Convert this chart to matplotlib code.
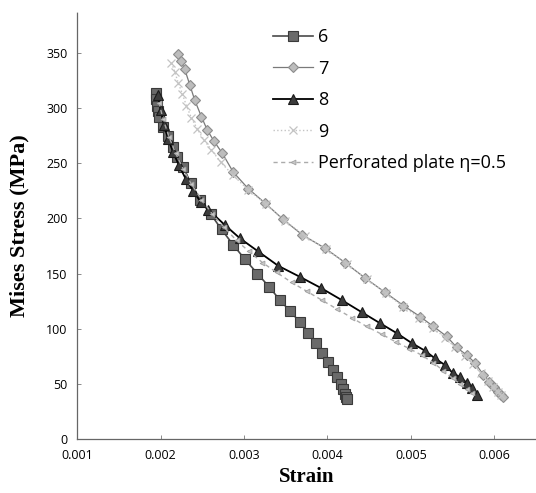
import matplotlib
matplotlib.use("Agg")
import matplotlib.pyplot as plt

# strain / Mises stress
x6 = [0.00194, 0.00195, 0.00196, 0.00197, 0.00198, 0.00203, 0.00209, 0.00215, 0.00220, 0.00227,
      0.00236, 0.00247, 0.00260, 0.00273, 0.00287, 0.00301, 0.00316, 0.00330, 0.00343, 0.00355,
      0.00367, 0.00377, 0.00386, 0.00394, 0.00401, 0.00407, 0.00412, 0.00416, 0.00419, 0.00421,
      0.00422, 0.00423]
y6 = [314, 308, 302, 297, 292, 283, 275, 265, 256, 247,
      232, 217, 204, 190, 176, 163, 150, 138, 126, 116,
      106, 96, 87, 78, 70, 63, 56, 50, 45, 41,
      38, 36]

x7 = [0.00221, 0.00224, 0.00229, 0.00235, 0.00241, 0.00249, 0.00256, 0.00264, 0.00274, 0.00287,
      0.00305, 0.00325, 0.00347, 0.00370, 0.00397, 0.00421, 0.00445, 0.00469, 0.00491, 0.00511,
      0.00527, 0.00543, 0.00555, 0.00567, 0.00577, 0.00587, 0.00594, 0.00600, 0.00605, 0.00608,
      0.00611]
y7 = [349, 343, 335, 321, 307, 292, 280, 270, 259, 242,
      227, 214, 199, 185, 173, 160, 146, 133, 121, 111,
      102, 93, 83, 76, 69, 58, 52, 47, 43, 40,
      38]

x8 = [0.00197, 0.00200, 0.00204, 0.00209, 0.00215, 0.00222, 0.00230, 0.00239, 0.00248, 0.00257,
      0.00277, 0.00295, 0.00317, 0.00341, 0.00367, 0.00392, 0.00417, 0.00441, 0.00463, 0.00483,
      0.00501, 0.00517, 0.00529, 0.00541, 0.00550, 0.00559, 0.00567, 0.00573, 0.00579]
y8 = [312, 298, 285, 272, 260, 248, 236, 225, 215, 208,
      194, 182, 170, 157, 147, 137, 126, 115, 105, 96,
      87, 80, 73, 67, 60, 56, 51, 46, 40]

x9 = [0.00213, 0.00217, 0.00221, 0.00226, 0.00231, 0.00237, 0.00244, 0.00252, 0.00261, 0.00272,
      0.00287, 0.00305, 0.00326, 0.00349, 0.00373, 0.00398, 0.00423, 0.00447, 0.00470, 0.00491,
      0.00510, 0.00526, 0.00541, 0.00553, 0.00565, 0.00575, 0.00584, 0.00592, 0.00599, 0.00604,
      0.00608]
y9 = [341, 333, 323, 313, 302, 291, 281, 271, 262, 251,
      239, 226, 213, 198, 184, 172, 159, 145, 132, 120,
      110, 101, 92, 83, 75, 68, 60, 53, 47, 43,
      40]

xp = [0.00198, 0.00203, 0.00210, 0.00218, 0.00227, 0.00237, 0.00249, 0.00262, 0.00276, 0.00291,
      0.00306, 0.00322, 0.00339, 0.00357, 0.00375, 0.00393, 0.00411, 0.00429, 0.00447, 0.00465,
      0.00482, 0.00498, 0.00513, 0.00527, 0.00539, 0.00550, 0.00559, 0.00567, 0.00573]
yp = [305, 290, 274, 259, 245, 231, 217, 204, 192, 180,
      170, 160, 151, 142, 134, 126, 118, 110, 102, 95,
      88, 82, 76, 69, 62, 55, 50, 45, 42]

labels = ["6", "7", "8", "9", "Perforated plate η=0.5"]
xticks = [0.001, 0.002, 0.003, 0.004, 0.005, 0.006]
yticks = [0, 50, 100, 150, 200, 250, 300, 350]

fig = plt.figure(figsize=(5.36, 4.93), dpi=100)
ax = fig.add_axes([0.144, 0.1095, 0.856, 0.866])

ax.plot(x6, y6, color="#4a4a4a", lw=1.2, marker="s", ms=6.5,
        mfc="#6a6a6a", mec="#3a3a3a", mew=0.8, label=labels[0])
ax.plot(x7, y7, color="#7a7a7a", lw=0.9, marker="D", ms=5,
        mfc="#bdbdbd", mec="#8c8c8c", mew=0.8, label=labels[1])
ax.plot(x8, y8, color="black", lw=1.3, marker="^", ms=6.5,
        mfc="#3c3c3c", mec="#1a1a1a", mew=0.8, label=labels[2])
ax.plot(x9, y9, color="#c4c4c4", lw=1.0, ls=":", marker="x", ms=6,
        mew=0.9, label=labels[3])
ax.plot(xp, yp, color="#ababab", lw=1.0, ls=(0, (3, 2.5)), marker="<", ms=3.5,
        mfc="#c8c8c8", mec="#a0a0a0", mew=0.6, label=labels[4])

ax.set_xlim(0.001, 0.0065)
ax.set_ylim(0, 387)
ax.set_xticks(xticks)
ax.set_xticklabels([f"{t:.3f}" for t in xticks])
ax.set_yticks(yticks)
ax.tick_params(direction="in", length=3, width=0.6, color="#777777",
               labelsize=9, pad=7)
for lab in ax.get_xticklabels() + ax.get_yticklabels():
    lab.set_family("Open Sans")

for s in ["top", "right"]:
    ax.spines[s].set_visible(False)
for s in ["left", "bottom"]:
    ax.spines[s].set_linestyle((0, (1, 1)))
    ax.spines[s].set_color("#666666")
    ax.spines[s].set_linewidth(0.9)

ax.set_xlabel("Strain", family="Liberation Serif", fontweight="bold",
              fontsize=15, labelpad=4)
ax.set_ylabel("Mises Stress (MPa)", family="Liberation Serif", fontweight="bold",
              fontsize=16, labelpad=12)

leg = ax.legend(loc="upper left", bbox_to_anchor=(273 / 536, 1 - 28 / 493),
                bbox_transform=fig.transFigure, frameon=False,
                prop={"family": "Open Sans", "size": 13},
                handlelength=2.2, handletextpad=0.3, labelspacing=0.75,
                borderpad=0, borderaxespad=0)

fig.savefig("out.png", dpi=100)
